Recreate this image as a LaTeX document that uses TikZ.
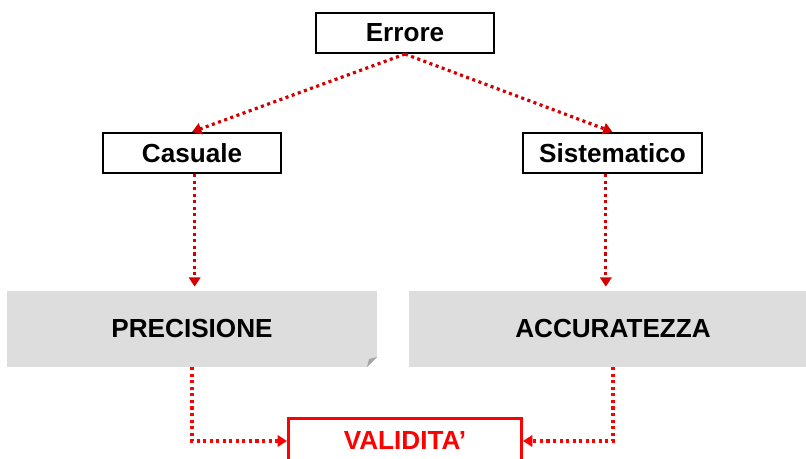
\documentclass[tikz,border=0pt]{standalone}
\usepackage{fontspec}
\setmainfont{Liberation Sans}
\usetikzlibrary{arrows.meta}
\definecolor{darkred}{HTML}{D40000}
\definecolor{panel}{HTML}{DDDDDD}
\begin{document}
\begin{tikzpicture}[x=0.75pt,y=-0.75pt,
  font=\fontsize{19.6}{23}\selectfont\bfseries,
  errbox/.style={draw=black,line width=1.6pt,fill=white,minimum width=133.5pt,minimum height=30pt,inner sep=0pt},
  panelbox/.style={fill=panel,minimum height=57pt,inner sep=0pt},
  dots/.style={line width=2.4pt,dash pattern=on 2.3pt off 2.6pt,-{Triangle[length=7pt,width=8.5pt]}},
  topdots/.style={dots,draw=darkred},
  lowdots/.style={dots,draw=red,line width=2.5pt}]
\clip (0,0) rectangle (806,459);
\useasboundingbox (0,0) rectangle (806,459);

\node[panelbox,minimum width=277.5pt] (prec) at (192,329) {PRECISIONE};
\fill[white] (prec.south east) -- ++(-10,0) -- ++(10,-10) -- cycle;
\fill[gray!70] (367,367) -- (377,357) -- (369,359) -- cycle;
\node[panelbox,minimum width=306pt] (accu) at (613,329) {ACCURATEZZA};

\node[errbox] (errore) at (405,33) {Errore};
\node[errbox] (casuale) at (192,153) {Casuale};
\node[errbox,minimum width=134pt] (sistem) at (612.5,153) {Sistematico};
\node[draw=red,text=red,line width=2pt,minimum width=175pt,minimum height=34pt,inner sep=0pt] (valid) at (405,441) {VALIDITA'};

\draw[topdots] (errore.south) -- (casuale.north);
\draw[topdots] (errore.south) -- (sistem.north);
\draw[topdots,shorten >=3pt] ([xshift=2]casuale.south) -- ([xshift=2]casuale.south |- prec.north);
\draw[topdots,shorten >=3pt] ([xshift=-5]sistem.south) -- ([xshift=-5]sistem.south |- accu.north);
\draw[lowdots] (prec.south) |- (valid.west);
\draw[lowdots] (accu.south) |- (valid.east);
\end{tikzpicture}
\end{document}
